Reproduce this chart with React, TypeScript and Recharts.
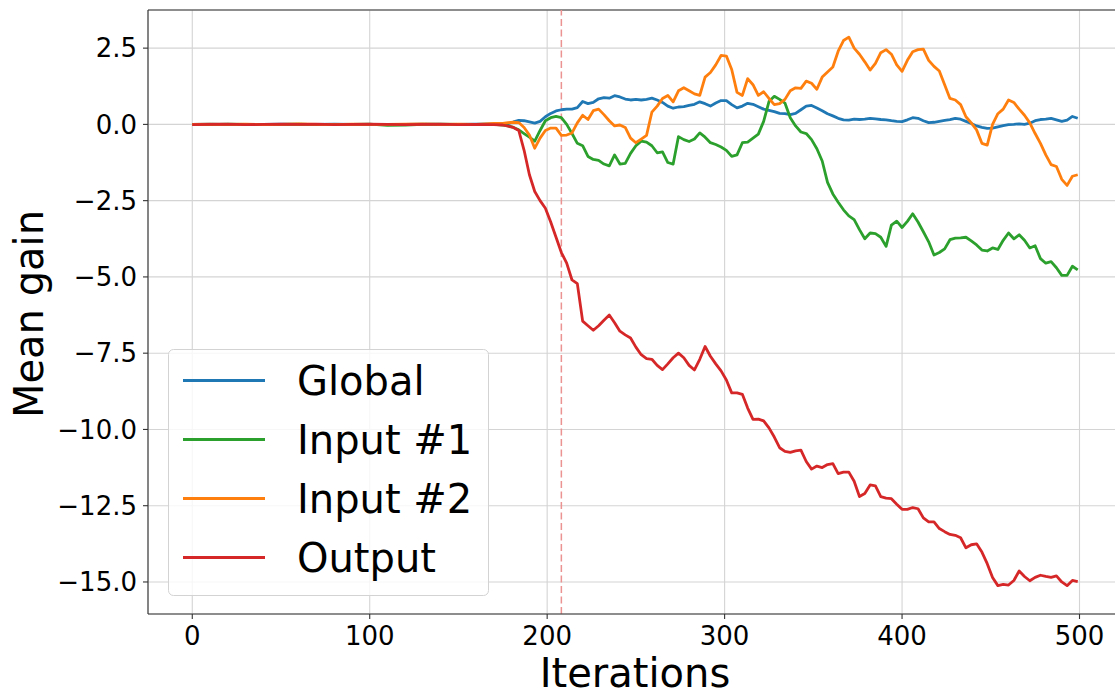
import React from 'react';
import { LineChart, Line, XAxis, YAxis, CartesianGrid, ReferenceLine, Legend } from 'recharts';

// iteration numbers (sampled; the flat start is coarse, the busy part finer)
const iterations = [
	0, 10, 20, 30, 40, 50, 60, 70, 80, 90, 100, 110, 120, 130, 140, 150, 160, 170,
	175, 178, 181, 184, 187, 190, 193, 196, 199, 202,
	205, 208, 211, 214, 217, 220, 223, 226, 229, 232,
	235, 238, 241, 244, 247, 250, 253, 256, 259, 262,
	265, 268, 271, 274, 277, 280, 283, 286, 289, 292,
	295, 298, 301, 304, 307, 310, 313, 316, 319, 322,
	325, 328, 331, 334, 337, 340, 343, 346, 349, 352,
	355, 358, 361, 364, 367, 370, 373, 376, 379, 382,
	385, 388, 391, 394, 397, 400, 403, 406, 409, 412,
	415, 418, 421, 424, 427, 430, 433, 436, 439, 442,
	445, 448, 451, 454, 457, 460, 463, 466, 469, 472,
	475, 478, 481, 484, 487, 490, 493, 496, 499,
];

const globalGain = [
	0.0, 0.01, 0.0, -0.01, 0.0, 0.01, 0.0, 0.0, 0.01, 0.0, -0.01, 0.0, 0.0, 0.01, 0.0, 0.0, 0.01, 0.02,
	0.0, 0.02, 0.08, 0.13, 0.12, 0.08, 0.04, 0.1, 0.25, 0.36,
	0.44, 0.48, 0.5, 0.5, 0.55, 0.75, 0.68, 0.72, 0.84, 0.88,
	0.86, 0.94, 0.9, 0.83, 0.8, 0.82, 0.8, 0.82, 0.86, 0.8,
	0.72, 0.6, 0.53, 0.57, 0.58, 0.62, 0.66, 0.74, 0.68, 0.6,
	0.7, 0.78, 0.78, 0.65, 0.54, 0.6, 0.69, 0.66, 0.58, 0.5,
	0.46, 0.42, 0.36, 0.35, 0.32, 0.36, 0.48, 0.6, 0.62, 0.54,
	0.45, 0.35, 0.28, 0.2, 0.15, 0.14, 0.17, 0.16, 0.17, 0.2,
	0.18, 0.16, 0.15, 0.12, 0.1, 0.09, 0.15, 0.22, 0.2, 0.12,
	0.06, 0.07, 0.1, 0.13, 0.16, 0.2, 0.17, 0.1, 0.03, -0.05,
	-0.1, -0.13, -0.12, -0.08, -0.04, -0.01, 0.0, 0.02, 0.0, 0.04,
	0.12, 0.16, 0.17, 0.2, 0.15, 0.1, 0.14, 0.26, 0.2,
];

const input1Gain = [
	0.0, -0.01, 0.01, 0.0, -0.01, 0.0, 0.01, -0.01, 0.0, 0.0, 0.01, -0.03, -0.02, 0.0, 0.01, 0.0, -0.01, 0.0,
	-0.02, -0.05, -0.1, -0.18, -0.3, -0.42, -0.55, -0.2, 0.12, 0.22,
	0.26, 0.22, 0.0, -0.3, -0.62, -0.7, -1.05, -1.15, -1.18, -1.3,
	-1.36, -1.0, -1.3, -1.28, -0.95, -0.7, -0.55, -0.58, -0.7, -0.93,
	-0.9, -1.25, -1.3, -0.4, -0.5, -0.56, -0.48, -0.28, -0.42, -0.6,
	-0.66, -0.74, -0.85, -1.05, -1.0, -0.6, -0.58, -0.45, -0.32, 0.1,
	0.75, 0.92, 0.82, 0.7, 0.22, -0.05, -0.25, -0.3, -0.5, -0.8,
	-1.2, -1.9, -2.28, -2.55, -2.8, -3.0, -3.12, -3.45, -3.75, -3.56,
	-3.58, -3.7, -4.0, -3.3, -3.17, -3.38, -3.18, -2.93, -3.2, -3.52,
	-3.85, -4.28, -4.2, -4.08, -3.78, -3.73, -3.72, -3.7, -3.82, -3.95,
	-4.12, -4.15, -4.05, -4.1, -3.8, -3.56, -3.75, -3.62, -3.8, -4.05,
	-3.98, -4.4, -4.55, -4.5, -4.7, -4.95, -4.95, -4.65, -4.77,
];

const input2Gain = [
	0.0, 0.01, 0.0, 0.01, -0.01, 0.0, 0.02, 0.0, -0.01, 0.01, 0.0, 0.0, 0.01, 0.02, 0.0, 0.01, 0.0, 0.03,
	0.03, 0.06, 0.07, 0.06, -0.1, -0.35, -0.78, -0.45, -0.2, -0.12,
	-0.12, -0.36, -0.35, -0.28, 0.05, 0.3, 0.16, 0.45, 0.5, 0.32,
	0.12, -0.05, -0.02, -0.1, -0.45, -0.6, -0.48, -0.36, 0.4, 0.6,
	0.85, 0.95, 0.74, 1.1, 1.2, 1.1, 1.0, 0.95, 1.55, 1.7,
	1.95, 2.26, 2.24, 1.8, 1.05, 0.95, 1.5, 1.3, 0.95, 1.07,
	0.85, 0.65, 0.68, 0.82, 1.1, 1.2, 1.18, 1.42, 1.35, 1.15,
	1.55, 1.72, 1.88, 2.4, 2.75, 2.86, 2.5, 2.3, 2.05, 1.78,
	2.0, 2.35, 2.45, 2.3, 1.95, 1.74, 2.1, 2.38, 2.45, 2.47,
	2.1, 1.9, 1.75, 1.3, 0.85, 0.8, 0.65, 0.25, 0.05, -0.18,
	-0.62, -0.68, 0.0, 0.35, 0.5, 0.8, 0.72, 0.5, 0.3, 0.05,
	-0.3, -0.62, -1.0, -1.32, -1.38, -1.8, -2.0, -1.7, -1.65,
];

const outputGain = [
	-0.01, 0.0, 0.01, -0.01, 0.0, 0.01, 0.0, 0.01, -0.01, 0.0, 0.01, 0.0, -0.01, 0.0, 0.01, -0.01, 0.0, -0.01,
	-0.02, -0.06, -0.1, -0.2, -0.85, -1.65, -2.2, -2.5, -2.75, -3.2,
	-3.7, -4.2, -4.55, -5.1, -5.22, -6.45, -6.6, -6.75, -6.6, -6.42,
	-6.25, -6.5, -6.78, -6.9, -7.0, -7.3, -7.55, -7.68, -7.7, -7.9,
	-8.04, -7.85, -7.65, -7.5, -7.65, -7.9, -8.05, -7.7, -7.28, -7.6,
	-7.85, -8.08, -8.38, -8.8, -8.8, -8.85, -9.3, -9.67, -9.66, -9.72,
	-9.95, -10.25, -10.6, -10.72, -10.75, -10.7, -10.68, -11.05, -11.3, -11.2,
	-11.25, -11.15, -11.12, -11.45, -11.4, -11.4, -11.7, -12.2, -12.1, -11.82,
	-11.85, -12.2, -12.25, -12.27, -12.45, -12.62, -12.62, -12.56, -12.6, -12.9,
	-13.03, -13.03, -13.25, -13.35, -13.44, -13.47, -13.55, -13.88, -13.78, -13.75,
	-14.02, -14.4, -14.85, -15.12, -15.08, -15.1, -14.95, -14.64, -14.82, -14.96,
	-14.85, -14.78, -14.82, -14.85, -14.8, -15.0, -15.12, -14.95, -14.99,
];

const xTicks = [0, 100, 200, 300, 400, 500];
const yTicks = [-15, -12.5, -10, -7.5, -5, -2.5, 0, 2.5];
const switchIteration = 208; // dashed marker

// plotting order = legend order (last one drawn on top)
const SERIES = [
	{ key: 'global', name: 'Global', color: '#1f77b4' },
	{ key: 'input1', name: 'Input #1', color: '#2ca02c' },
	{ key: 'input2', name: 'Input #2', color: '#ff7f0e' },
	{ key: 'output', name: 'Output', color: '#d62728' },
];

const data = iterations.map((it, i) => ({
	iteration: it,
	global: globalGain[i],
	input1: input1Gain[i],
	input2: input2Gain[i],
	output: outputGain[i],
}));

const FONT = '"DejaVu Sans", Verdana, sans-serif';

const fmtY = (v: number) => (v < 0 ? '\u2212' : '') + Math.abs(v).toFixed(1);

function XTitle(props: any) {
	const vb = props.viewBox;
	return (
		<text x={vb.x + vb.width / 2} y={vb.y + vb.height - 4} textAnchor="middle" fontSize={40} fontFamily={FONT} fill="#000">
			Iterations
		</text>
	);
}

function YTitle(props: any) {
	const vb = props.viewBox;
	const x = vb.x + 43;
	const y = vb.y + vb.height / 2 + 2;
	return (
		<text x={x} y={y} transform={`rotate(-90 ${x} ${y})`} textAnchor="middle" fontSize={40} fontFamily={FONT} fill="#000">
			Mean gain
		</text>
	);
}

function LegendBox() {
	return (
		<svg width={322} height={248} style={{ display: 'block' }}>
			<rect x={0.5} y={0.5} width={320} height={246} rx={5} fill="rgba(255,255,255,0.8)" stroke="#d3d3d3" />
			{SERIES.map((s, i) => (
				<g key={s.key}>
					<line x1={15} x2={97} y1={31.5 + i * 59} y2={31.5 + i * 59} stroke={s.color} strokeWidth={2.8} />
					<text x={129} y={45.5 + i * 59} fontSize={40} fontFamily={FONT} fill="#000">
						{s.name}
					</text>
				</g>
			))}
		</svg>
	);
}

export default function App() {
	return (
		<div style={{ position: 'absolute', left: 0, top: 0, width: 1115, height: 691, overflow: 'hidden', background: '#fff' }}>
			<LineChart width={1130} height={691} data={data} margin={{ top: 10, right: 8, bottom: 0, left: 0 }} style={{ fontFamily: FONT }}>
				<CartesianGrid stroke="#d4d4d4" strokeWidth={1.1} />
				<XAxis
					dataKey="iteration"
					type="number"
					domain={[-24.95, 523.95]}
					allowDataOverflow
					ticks={xTicks}
					interval={0}
					height={77}
					tickSize={5}
					tickMargin={8}
					axisLine={{ stroke: '#333', strokeWidth: 1.1 }}
					tickLine={{ stroke: '#333', strokeWidth: 1.1 }}
					tick={{ fontSize: 26, fill: '#000', fontFamily: FONT }}
					label={{ content: XTitle }}
				/>
				<YAxis
					type="number"
					domain={[-16.05, 3.75]}
					allowDataOverflow
					ticks={yTicks}
					interval={0}
					width={148}
					tickSize={5}
					tickMargin={6}
					tickFormatter={fmtY}
					axisLine={{ stroke: '#333', strokeWidth: 1.1 }}
					tickLine={{ stroke: '#333', strokeWidth: 1.1 }}
					tick={{ fontSize: 26, fill: '#000', fontFamily: FONT }}
					label={{ content: YTitle }}
				/>
				{/* top spine */}
				<ReferenceLine y={3.75} stroke="#333" strokeWidth={1.1} />
				<ReferenceLine x={switchIteration} stroke="#eb9393" strokeWidth={1.5} strokeDasharray="7 3.5" />
				{SERIES.map((s) => (
					<Line
						key={s.key}
						dataKey={s.key}
						name={s.name}
						type="linear"
						stroke={s.color}
						strokeWidth={2.8}
						dot={false}
						strokeLinejoin="round"
						isAnimationActive={false}
					/>
				))}
				<Legend
					layout="vertical"
					align="center"
					verticalAlign="middle"
					wrapperStyle={{ left: 168, top: 349, right: 'auto', bottom: 'auto', width: 322, height: 248 }}
					content={() => <LegendBox />}
				/>
			</LineChart>
		</div>
	);
}
